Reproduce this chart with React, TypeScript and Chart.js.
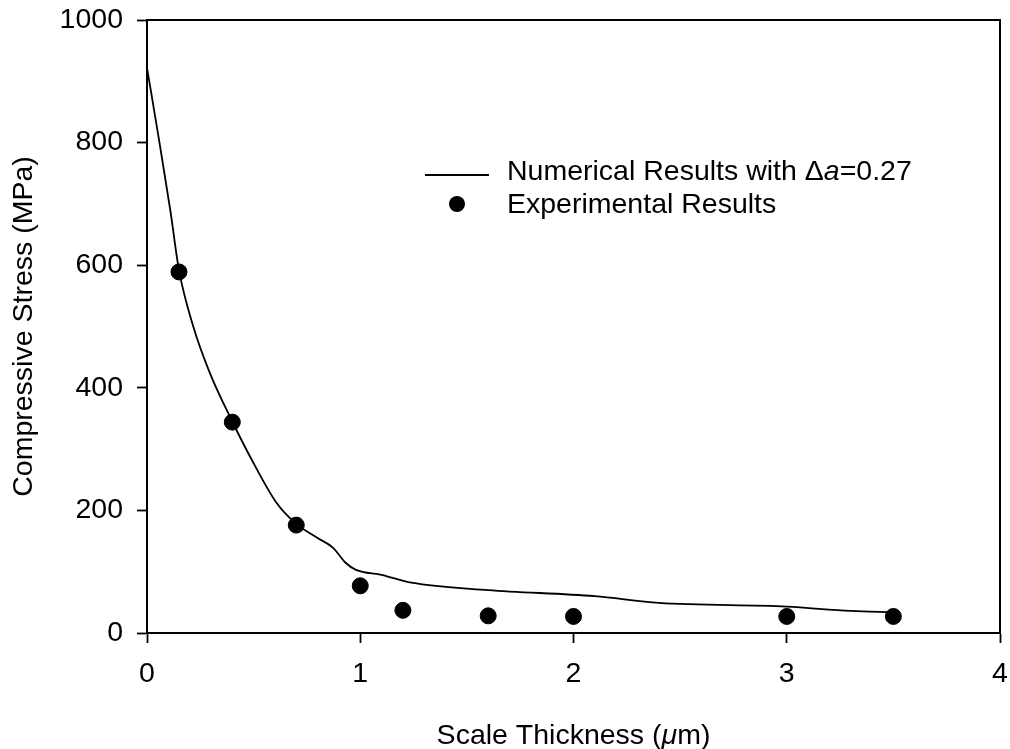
import React, { useEffect, useRef } from "react";
import { Chart, registerables } from "chart.js";

Chart.register(...registerables);

// ---- data ----
const numericalX = [0, 0.05, 0.11, 0.15, 0.217, 0.295, 0.4, 0.483, 0.608, 0.7, 0.8, 0.873, 0.93, 0.98, 1.1, 1.24, 1.6, 2.1, 2.4, 3.0, 3.3, 3.5];
const numericalY = [922, 818, 688, 592, 500, 424, 345, 288, 212, 178, 155, 139, 115, 103, 95, 82, 70, 60, 49, 43, 36, 34];
const experimentalX = [0.15, 0.4, 0.7, 1.0, 1.2, 1.6, 2.0, 3.0, 3.5];
const experimentalY = [589, 344, 176, 77, 37, 28, 27, 27, 27];
const xTicks = [0, 1, 2, 3, 4];
const yTicks = [0, 200, 400, 600, 800, 1000];
const xTitleParts = [
  { text: "Scale Thickness (", italic: false },
  { text: "\u03bc", italic: true },
  { text: "m)", italic: false },
];
const yTitle = "Compressive Stress (MPa)";
const numericalLabelParts = [
  { text: "Numerical Results with \u0394", italic: false },
  { text: "a", italic: true },
  { text: "=0.27", italic: false },
];
const experimentalLabelParts = [{ text: "Experimental Results", italic: false }];

const FAMILY = "'Liberation Sans', Arial, Helvetica, sans-serif";
const FS = 28.5;

function drawParts(ctx: CanvasRenderingContext2D, parts: { text: string; italic: boolean }[], x: number, y: number, center: boolean) {
  const fontFor = (it: boolean) => `${it ? "italic " : ""}${FS}px ${FAMILY}`;
  let total = 0;
  for (const p of parts) {
    ctx.font = fontFor(p.italic);
    total += ctx.measureText(p.text).width;
  }
  let cx = center ? x - total / 2 : x;
  ctx.textAlign = "left";
  ctx.textBaseline = "alphabetic";
  for (const p of parts) {
    ctx.font = fontFor(p.italic);
    ctx.fillText(p.text, cx, y);
    cx += ctx.measureText(p.text).width;
  }
}

const framePlugin = {
  id: "frameAndExtras",
  afterDraw(chart: any) {
    const { ctx, chartArea } = chart;
    ctx.save();
    ctx.strokeStyle = "#000";
    ctx.lineWidth = 2;
    ctx.beginPath();
    ctx.moveTo(chartArea.left, chartArea.top);
    ctx.lineTo(chartArea.right, chartArea.top);
    ctx.lineTo(chartArea.right, chartArea.bottom);
    ctx.stroke();

    // x-axis title with italic mu
    ctx.fillStyle = "#000";
    drawParts(ctx, xTitleParts, (chartArea.left + chartArea.right) / 2, 744, true);

    // legend
    const ds0 = chart.data.datasets[0];
    const ds1 = chart.data.datasets[1];
    ctx.strokeStyle = ds0.borderColor;
    ctx.lineWidth = ds0.borderWidth;
    ctx.beginPath();
    ctx.moveTo(425, 175);
    ctx.lineTo(489, 175);
    ctx.stroke();
    drawParts(ctx, numericalLabelParts, 507, 180, false);
    ctx.fillStyle = ds1.backgroundColor;
    ctx.beginPath();
    ctx.arc(457, 204, ds1.pointRadius, 0, Math.PI * 2);
    ctx.fill();
    ctx.fillStyle = "#000";
    drawParts(ctx, experimentalLabelParts, 507, 213, false);
    ctx.restore();
  },
};

export default function App() {
  const canvasRef = useRef<HTMLCanvasElement | null>(null);

  useEffect(() => {
    if (!canvasRef.current) return;
    const tickFont = { family: FAMILY, size: FS };
    const chart = new Chart(canvasRef.current, {
      type: "scatter",
      data: {
        datasets: [
          {
            label: numericalLabelParts.map((p) => p.text).join(""),
            data: numericalX.map((x, i) => ({ x, y: numericalY[i] })),
            showLine: true,
            borderColor: "#000",
            borderWidth: 1.8,
            pointRadius: 0,
            cubicInterpolationMode: "monotone",
            fill: false,
          },
          {
            label: experimentalLabelParts.map((p) => p.text).join(""),
            data: experimentalX.map((x, i) => ({ x, y: experimentalY[i] })),
            showLine: false,
            backgroundColor: "#000",
            borderColor: "#000",
            pointRadius: 8,
            pointHoverRadius: 8,
            clip: false,
          },
        ],
      },
      options: {
        responsive: false,
        animation: false,
        devicePixelRatio: 1,
        layout: { padding: { top: 20, right: 10, left: 0, bottom: 0 } },
        plugins: {
          legend: { display: false },
          tooltip: { enabled: false },
        },
        scales: {
          x: {
            type: "linear",
            min: 0,
            max: 4,
            afterBuildTicks: (s: any) => {
              s.ticks = xTicks.map((v) => ({ value: v }));
            },
            afterFit: (s: any) => {
              s.height = 116;
              s.paddingLeft = 0;
              s.paddingRight = 0;
              s.paddingTop = 0;
              s.paddingBottom = 0;
            },
            ticks: { font: tickFont, color: "#000", padding: 14, maxRotation: 0, callback: (v: any) => String(v) },
            grid: { drawOnChartArea: false, drawTicks: true, tickLength: 10, tickColor: "#000", tickWidth: 1.8 },
            border: { display: true, color: "#000", width: 2 },
            title: { display: false },
          },
          y: {
            type: "linear",
            min: 0,
            max: 1000,
            afterBuildTicks: (s: any) => {
              s.ticks = yTicks.map((v) => ({ value: v }));
            },
            afterFit: (s: any) => {
              s.width = 147;
              s.paddingLeft = 0;
              s.paddingRight = 0;
              s.paddingTop = 0;
              s.paddingBottom = 0;
            },
            ticks: { font: tickFont, color: "#000", padding: 14, callback: (v: any) => String(v) },
            grid: { drawOnChartArea: false, drawTicks: true, tickLength: 10, tickColor: "#000", tickWidth: 1.8 },
            border: { display: true, color: "#000", width: 2 },
            title: {
              display: true,
              text: yTitle,
              color: "#000",
              font: { family: FAMILY, size: FS, lineHeight: 1.2 },
              padding: { top: 7, bottom: 0 },
            },
          },
        },
      } as any,
      plugins: [framePlugin],
    });
    return () => chart.destroy();
  }, []);

  return (
    <div style={{ position: "fixed", left: 0, top: 0, width: 1010, height: 749, background: "#fff" }}>
      <canvas ref={canvasRef} width={1010} height={749} style={{ display: "block" }} />
    </div>
  );
}
